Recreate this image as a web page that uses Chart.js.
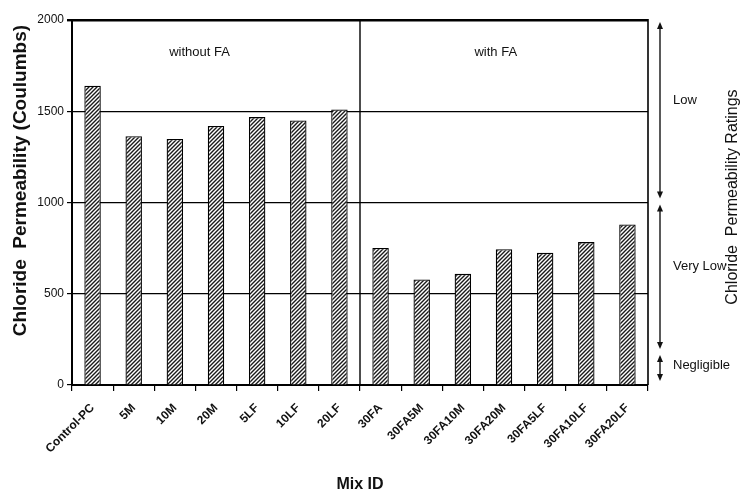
<!DOCTYPE html>
<html>
<head>
<meta charset="utf-8">
<script src="https://cdn.jsdelivr.net/npm/chart.js@4"></script>
<style>
  html, body { margin: 0; padding: 0; background: #fff; }
  canvas { display: block; }
</style>
</head>
<body>
<canvas id="chart" width="750" height="500"></canvas>
<script>
// Mix designs and their rapid chloride permeability (charge passed, Coulombs)
const mixIds = ['Control-PC', '5M', '10M', '20M', '5LF', '10LF', '20LF',
                '30FA', '30FA5M', '30FA10M', '30FA20M', '30FA5LF', '30FA10LF', '30FA20LF'];
const chargePassed = [1640, 1363, 1348, 1419, 1468, 1450, 1510,
                      751, 578, 609, 744, 724, 783, 880];

// Two groups of mixes, split after the seventh mix
const groupNames = ['without FA', 'with FA'];
const groupSize = 7;

// Permeability rating bands shown with arrows on the right (Coulombs)
const ratingNames = ['Low', 'Very Low', 'Negligible'];
const ratingFrom = [2000, 1000, 175];
const ratingTo = [1000, 175, 0];
const ratingLabelAt = [1560, 650, 110];

const yMin = 0, yMax = 2000, yStep = 500;

const FONT = "'Liberation Sans', Arial, Helvetica, sans-serif";

// Diagonal hatching for the bars
function makeHatch() {
  const c = document.createElement('canvas');
  c.width = 4; c.height = 4;
  const g = c.getContext('2d');
  g.fillStyle = '#ffffff';
  g.fillRect(0, 0, 4, 4);
  g.strokeStyle = '#1a1a1a';
  g.lineWidth = 1.4;
  g.beginPath();
  g.moveTo(-1, 5); g.lineTo(5, -1);
  g.moveTo(-1, 1); g.lineTo(1, -1);
  g.moveTo(3, 5); g.lineTo(5, 3);
  g.stroke();
  return g.createPattern(c, 'repeat');
}

function arrowHead(ctx, x, y, dir) {
  // dir = -1 points up, 1 points down
  ctx.beginPath();
  ctx.moveTo(x, y);
  ctx.lineTo(x - 3, y - dir * 7);
  ctx.lineTo(x + 3, y - dir * 7);
  ctx.closePath();
  ctx.fill();
}

const annotations = {
  id: 'annotations',
  afterDatasetsDraw(chart) {
    const { ctx, chartArea: a, scales: { x, y } } = chart;
    ctx.save();
    ctx.strokeStyle = '#000';
    ctx.fillStyle = '#111';

    // right frame line
    ctx.lineWidth = 1.6;
    ctx.beginPath();
    ctx.moveTo(a.right, a.top - 1);
    ctx.lineTo(a.right, a.bottom);
    ctx.stroke();

    // divider between the two groups
    const divX = x.getPixelForValue(groupSize - 0.5);
    ctx.lineWidth = 1.4;
    ctx.beginPath();
    ctx.moveTo(divX, a.top);
    ctx.lineTo(divX, a.bottom);
    ctx.stroke();

    // group captions
    ctx.font = '13px ' + FONT;
    ctx.textAlign = 'center';
    ctx.textBaseline = 'middle';
    ctx.fillText(groupNames[0], x.getPixelForValue(2.6), y.getPixelForValue(1820));
    ctx.fillText(groupNames[1], x.getPixelForValue(9.8), y.getPixelForValue(1820));

    // rating arrows
    const ax = a.right + 12;
    ctx.lineWidth = 1.3;
    for (let i = 0; i < ratingNames.length; i++) {
      const top = y.getPixelForValue(ratingFrom[i]) + 2;
      const bot = y.getPixelForValue(ratingTo[i]) - 4;
      ctx.beginPath();
      ctx.moveTo(ax, top + 3);
      ctx.lineTo(ax, bot - 3);
      ctx.stroke();
      arrowHead(ctx, ax, top, -1);
      arrowHead(ctx, ax, bot, 1);
    }

    // rating names
    ctx.font = '13px ' + FONT;
    ctx.textAlign = 'left';
    ctx.textBaseline = 'middle';
    for (let i = 0; i < ratingNames.length; i++) {
      ctx.fillText(ratingNames[i], ax + 13, y.getPixelForValue(ratingLabelAt[i]));
    }

    // right-hand axis caption
    ctx.save();
    ctx.font = '16px ' + FONT;
    ctx.textAlign = 'center';
    ctx.translate(733, y.getPixelForValue(1030));
    ctx.rotate(-Math.PI / 2);
    ctx.fillText('Chloride  Permeability Ratings', 0, 0);
    ctx.restore();

    // left-hand axis caption
    ctx.save();
    ctx.font = 'bold 19px ' + FONT;
    ctx.textAlign = 'center';
    ctx.translate(21, y.getPixelForValue(1120));
    ctx.rotate(-Math.PI / 2);
    ctx.fillText('Chloride  Permeability (Coulumbs)', 0, 0);
    ctx.restore();

    ctx.restore();
  }
};

new Chart(document.getElementById('chart'), {
  type: 'bar',
  data: {
    labels: mixIds,
    datasets: [{
      data: chargePassed,
      backgroundColor: makeHatch(),
      borderColor: '#000',
      borderWidth: 1.3,
      barPercentage: 0.4,
      categoryPercentage: 1.0
    }]
  },
  options: {
    responsive: false,
    animation: false,
    devicePixelRatio: 1,
    layout: { padding: { top: 20, right: 102, bottom: 0, left: 0 } },
    plugins: {
      legend: { display: false },
      tooltip: { enabled: false }
    },
    scales: {
      x: {
        offset: true,
        grid: {
          display: true,
          offset: true,
          drawOnChartArea: false,
          drawTicks: true,
          tickLength: 6,
          color: '#000',
          lineWidth: 1.2
        },
        border: { display: true, color: '#000', width: 2 },
        ticks: {
          color: '#111',
          font: { family: FONT, size: 12, weight: 'bold' },
          minRotation: 45,
          maxRotation: 45,
          autoSkip: false,
          padding: 10
        },
        title: {
          display: true,
          text: 'Mix ID',
          color: '#111',
          font: { family: FONT, size: 16, weight: 'bold' },
          padding: { top: 0, bottom: 6 }
        },
        afterFit(scale) { scale.height = 115; }
      },
      y: {
        min: yMin,
        max: yMax,
        ticks: {
          stepSize: yStep,
          color: '#111',
          font: { family: FONT, size: 12 },
          padding: 3,
          callback: (v) => String(v)
        },
        grid: {
          color: '#000',
          lineWidth: (c) => (c.tick && c.tick.value === yMax ? 2.4 : 1.2),
          drawTicks: true,
          tickLength: 5
        },
        border: { display: true, color: '#000', width: 2 },
        title: { display: false },
        afterFit(scale) { scale.width = 72; }
      }
    }
  },
  plugins: [annotations]
});
</script>
</body>
</html>
